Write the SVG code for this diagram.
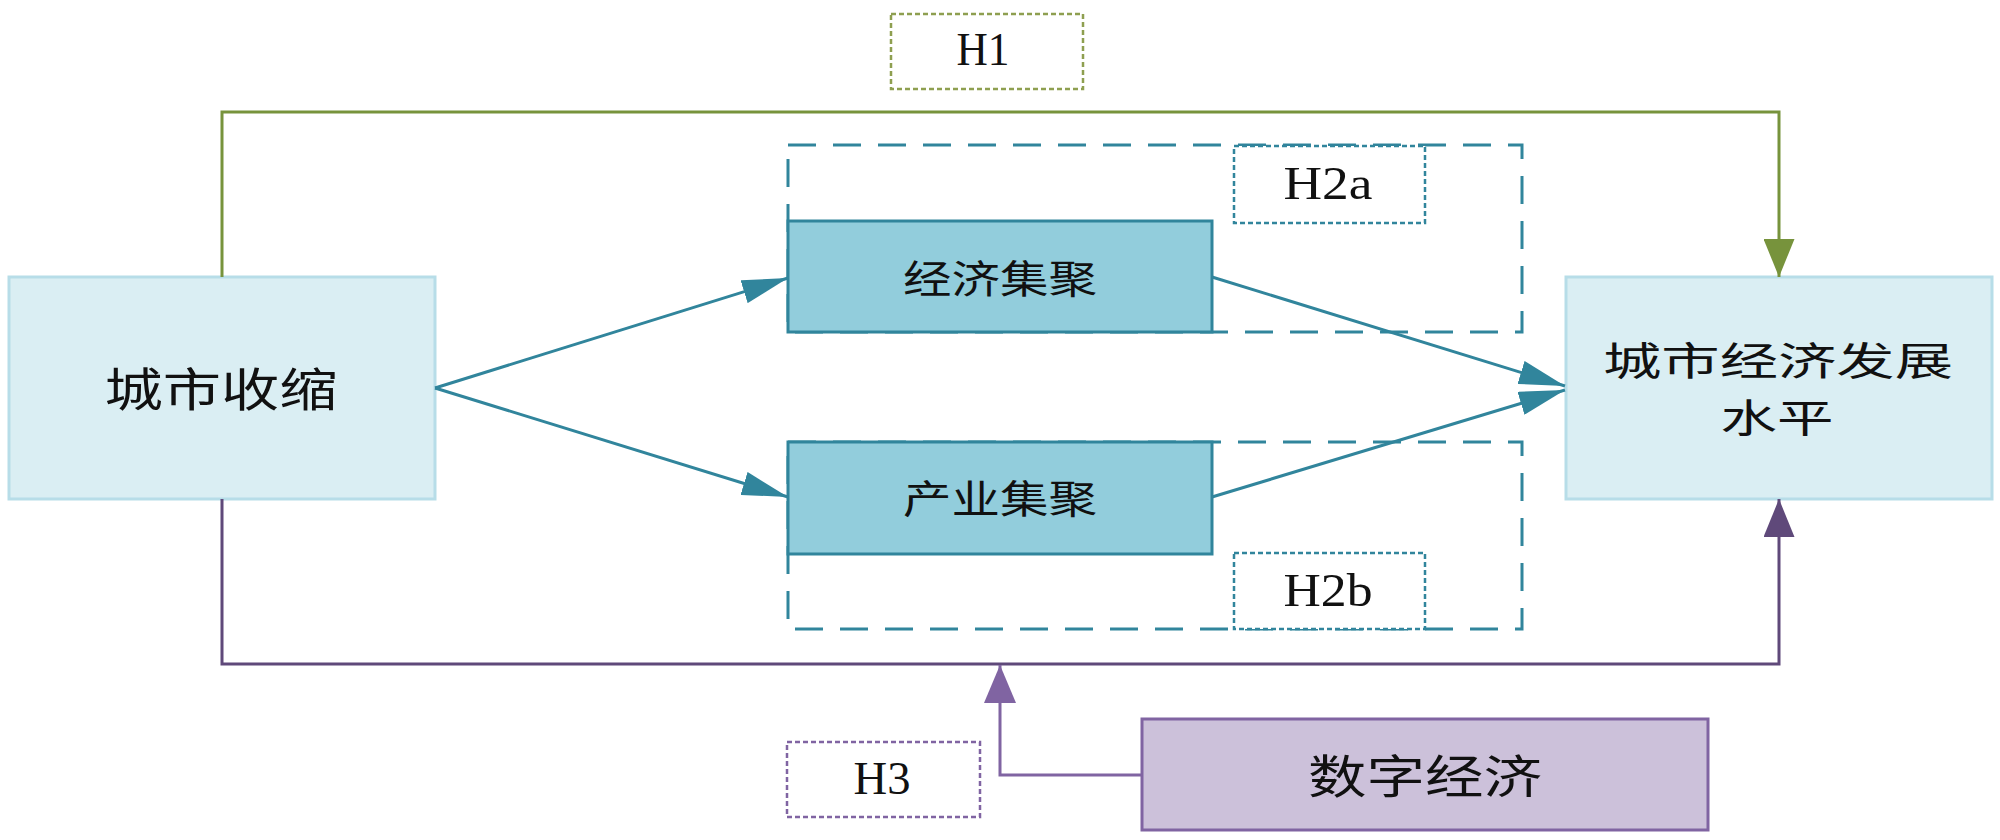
<svg xmlns="http://www.w3.org/2000/svg" width="2000" height="840" viewBox="0 0 2000 840">
  <style>
    .cjk { font-family: "Noto Sans CJK SC", "Noto Sans", sans-serif; fill: #111; text-anchor: middle; dominant-baseline: central; }
    .lat { font-family: "Liberation Serif", "Noto Sans CJK SC", serif; fill: #111; text-anchor: middle; }
    .outer { fill: #daeef3; stroke: #b7dde8; stroke-width: 3; }
    .mid { fill: #92cddc; stroke: #31859c; stroke-width: 3; }
    .dig { fill: #ccc1da; stroke: #8064a2; stroke-width: 3; }
    .group { fill: none; stroke: #31859c; stroke-width: 3; stroke-dasharray: 28 17; }
    .tagT { fill: #fff; stroke: #31859c; stroke-width: 2.5; stroke-dasharray: 5 3; }
    .tagG { fill: #fff; stroke: #8e9f50; stroke-width: 2.5; stroke-dasharray: 5 3; }
    .tagP { fill: #fff; stroke: #8064a2; stroke-width: 2.5; stroke-dasharray: 5 3; }
    .teal { fill: none; stroke: #31859c; stroke-width: 3; }
    .green { fill: none; stroke: #77933c; stroke-width: 3; }
    .dpurp { fill: none; stroke: #5f497a; stroke-width: 3; }
    .purp { fill: none; stroke: #8064a2; stroke-width: 3; }
  </style>
  <defs>
    <marker id="aTeal" markerUnits="userSpaceOnUse" viewBox="0 0 46 24" markerWidth="46" markerHeight="24" refX="46" refY="12" orient="auto">
      <path d="M0,0 L46,12 L0,24 Z" fill="#31859c"/>
    </marker>
    <marker id="aGreen" markerUnits="userSpaceOnUse" viewBox="0 0 38 31" markerWidth="38" markerHeight="31" refX="38" refY="15.5" orient="auto">
      <path d="M0,0 L38,15.5 L0,31 Z" fill="#77933c"/>
    </marker>
    <marker id="aDPurp" markerUnits="userSpaceOnUse" viewBox="0 0 38 31" markerWidth="38" markerHeight="31" refX="38" refY="15.5" orient="auto">
      <path d="M0,0 L38,15.5 L0,31 Z" fill="#5f497a"/>
    </marker>
    <marker id="aPurp" markerUnits="userSpaceOnUse" viewBox="0 0 38 32" markerWidth="38" markerHeight="32" refX="38" refY="16" orient="auto">
      <path d="M0,0 L38,16 L0,32 Z" fill="#8064a2"/>
    </marker>
  </defs>

  <rect width="2000" height="840" fill="#fff"/>

  <g id="group-h2a">
    <rect class="group" x="788" y="145" width="734" height="187"/>
  </g>
  <g id="group-h2b">
    <rect class="group" x="788" y="442" width="734" height="187"/>
  </g>

  <g id="node-shrink">
    <rect class="outer" x="9" y="277" width="426" height="222"/>
    <text class="cjk" x="221" y="386" font-size="46" textLength="233" lengthAdjust="spacingAndGlyphs">城市收缩</text>
  </g>

  <g id="node-econ-level">
    <rect class="outer" x="1566" y="277" width="426" height="222"/>
    <text class="cjk" x="1778" y="358" font-size="39" textLength="350" lengthAdjust="spacingAndGlyphs">城市经济发展</text>
    <text class="cjk" x="1777" y="415" font-size="39" textLength="113" lengthAdjust="spacingAndGlyphs">水平</text>
  </g>

  <g id="node-econ-agg">
    <rect class="mid" x="788" y="221" width="424" height="111"/>
    <text class="cjk" x="1000" y="276" font-size="39" textLength="194" lengthAdjust="spacingAndGlyphs">经济集聚</text>
  </g>

  <g id="node-ind-agg">
    <rect class="mid" x="788" y="442" width="424" height="112"/>
    <text class="cjk" x="1000" y="496" font-size="39" textLength="194" lengthAdjust="spacingAndGlyphs">产业集聚</text>
  </g>

  <g id="node-digital">
    <rect class="dig" x="1142" y="719" width="566" height="111"/>
    <text class="cjk" x="1425" y="773" font-size="46" textLength="234" lengthAdjust="spacingAndGlyphs">数字经济</text>
  </g>

  <g id="connectors">
    <path class="green" d="M222,277 V112 H1779 V277" marker-end="url(#aGreen)"/>
    <path class="dpurp" d="M222,499 V664 H1779 V499" marker-end="url(#aDPurp)"/>
    <path class="purp" d="M1142,775 H1000 V665" marker-end="url(#aPurp)"/>
    <path class="teal" d="M435,388 L788,278" marker-end="url(#aTeal)"/>
    <path class="teal" d="M435,388 L788,497" marker-end="url(#aTeal)"/>
    <path class="teal" d="M1212,277 L1565,386" marker-end="url(#aTeal)"/>
    <path class="teal" d="M1212,497 L1565,390" marker-end="url(#aTeal)"/>
  </g>

  <g id="label-h1">
    <rect class="tagG" x="891" y="14" width="192" height="75"/>
    <text class="lat" x="983" y="65" font-size="46" textLength="53" lengthAdjust="spacingAndGlyphs">H1</text>
  </g>
  <g id="label-h2a">
    <rect class="tagT" x="1234" y="146" width="191" height="77"/>
    <text class="lat" x="1328" y="199" font-size="46" textLength="89" lengthAdjust="spacingAndGlyphs">H2a</text>
  </g>
  <g id="label-h2b">
    <rect class="tagT" x="1234" y="553" width="191" height="76"/>
    <text class="lat" x="1328" y="606" font-size="46" textLength="89" lengthAdjust="spacingAndGlyphs">H2b</text>
  </g>
  <g id="label-h3">
    <rect class="tagP" x="787" y="742" width="193" height="75"/>
    <text class="lat" x="882" y="794" font-size="46" textLength="57" lengthAdjust="spacingAndGlyphs">H3</text>
  </g>
</svg>
